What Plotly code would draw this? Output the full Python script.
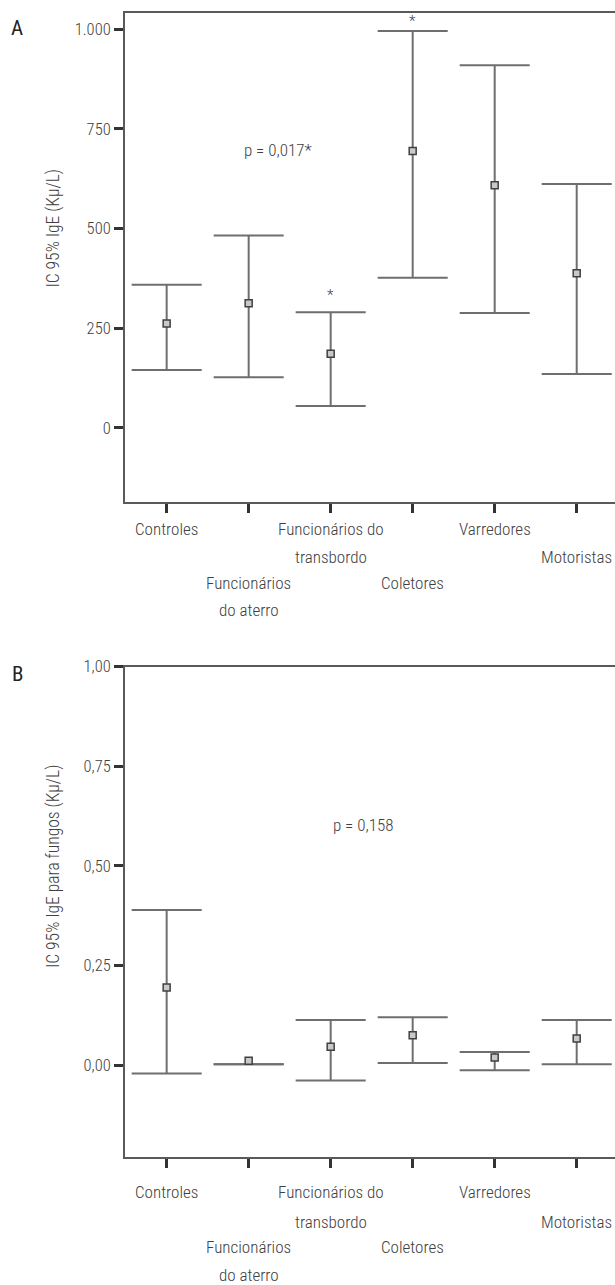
import plotly.graph_objects as go

# ---------------- data ----------------
categories = ["Controles", "Funcionários do aterro", "Funcionários do transbordo",
              "Coletores", "Varredores", "Motoristas"]
tick_lines = [["Controles"], ["Funcionários", "do aterro"], ["Funcionários do", "transbordo"],
              ["Coletores"], ["Varredores"], ["Motoristas"]]

# Panel A: IgE (Ku/L)
a_mean = [262, 313, 186, 695, 609, 388]
a_low = [145, 127, 55, 377, 288, 135]
a_high = [359, 483, 290, 996, 910, 612]
a_ticks = [0, 250, 500, 750, 1000]
a_ticktext = ["0", "250", "500", "750", "1.000"]

# Panel B: IgE para fungos (Ku/L)
b_mean = [0.195, 0.011, 0.046, 0.075, 0.019, 0.067]
b_low = [-0.021, 0.002, -0.039, 0.005, -0.013, 0.002]
b_high = [0.389, 0.002, 0.113, 0.120, 0.033, 0.113]
b_ticks = [0, 0.25, 0.5, 0.75, 1.0]
b_ticktext = ["0,00", "0,25", "0,50", "0,75", "1,00"]

# ---------------- style ----------------
W, H = 615, 1285
FONT = "Noto Sans Condensed, Roboto Condensed, DejaVu Sans Condensed, sans-serif"
FS = 17
WT = 300
TXT = "#404040"
LINE = "#6e6e6e"
AXC = "#5a5a5a"
CAP = 0.427

def py(px):
    return 1 - px / H

def f(size, color=TXT, weight=WT):
    return dict(family=FONT, size=size, color=color, weight=weight)

fig = go.Figure()

def add_panel(xa, ya, mean, low, high):
    xs, ys = [], []
    for i, (lo, hi) in enumerate(zip(low, high)):
        xs += [i, i, None, i - CAP, i + CAP, None, i - CAP, i + CAP, None]
        ys += [lo, hi, None, hi, hi, None, lo, lo, None]
    fig.add_trace(go.Scatter(x=xs, y=ys, mode="lines", xaxis=xa, yaxis=ya,
                             line=dict(color=LINE, width=2), hoverinfo="skip",
                             showlegend=False))
    fig.add_trace(go.Scatter(x=list(range(len(mean))), y=mean, mode="markers",
                             xaxis=xa, yaxis=ya, showlegend=False,
                             marker=dict(symbol="square", size=7, color="#c9c9c9",
                                         line=dict(color="#404040", width=1.5))))

add_panel("x", "y", a_mean, a_low, a_high)
add_panel("x2", "y2", b_mean, b_low, b_high)

x_range = [-0.508, 5.467]
common_x = dict(range=x_range, tickvals=list(range(6)), ticktext=[""] * 6,
                showticklabels=False, ticks="outside", ticklen=9, tickwidth=3,
                tickcolor="#333333", showline=True, linecolor=AXC, linewidth=2,
                mirror=True, showgrid=False, zeroline=False, automargin=False)
common_y = dict(ticks="outside", ticklen=9, tickwidth=3, tickcolor="#333333",
                showline=True, linecolor=AXC, linewidth=2, showgrid=False,
                zeroline=False, automargin=False, tickfont=f(16.5))

xdom = [125 / W, 1.0]
fig.update_layout(
    template="none",
    width=W, height=H, margin=dict(l=0, r=0, t=0, b=0, pad=0),
    paper_bgcolor="white", plot_bgcolor="white", showlegend=False,
    font=dict(family=FONT, color=TXT),
    xaxis=dict(domain=xdom, anchor="y", **common_x),
    yaxis=dict(domain=[py(502), py(13)], anchor="x", range=[-186, 1041],
               tickvals=a_ticks, ticktext=a_ticktext, **common_y),
    xaxis2=dict(domain=xdom, anchor="y2", **common_x),
    yaxis2=dict(domain=[py(1156.7), py(666.7)], anchor="x2", range=[-0.23, 1.0],
                tickvals=b_ticks, ticktext=b_ticktext, **common_y),
)

ann = []
rows_a = [529, 556.7, 582.7, 610]
rows_b = [1192.3, 1221.7, 1246.7, 1275]
start_row = [0, 2, 0, 2, 0, 1]
for xa, rows in (("x", rows_a), ("x2", rows_b)):
    for i, lines in enumerate(tick_lines):
        for k, t in enumerate(lines):
            ann.append(dict(x=i, y=py(rows[start_row[i] + k]), xref=xa, yref="paper",
                            text=t, showarrow=False, yanchor="middle", xanchor="center",
                            font=f(FS)))

# y-axis titles
ann.append(dict(x=53 / W, y=py(228.5), xref="paper", yref="paper",
                xanchor="center", yanchor="middle",
                text="IC 95% IgE (Kμ/L)", textangle=-90, showarrow=False,
                font=f(17.5)))
ann.append(dict(x=53 / W, y=py(867), xref="paper", yref="paper",
                xanchor="center", yanchor="middle",
                text="IC 95% IgE para fungos (Kμ/L)", textangle=-90, showarrow=False,
                font=f(17.5)))
# panel letters
ann.append(dict(x=17 / W, y=py(27.5), xref="paper", yref="paper", text="A",
                xanchor="center", yanchor="middle",
                showarrow=False, font=f(21, "#222222", 400)))
ann.append(dict(x=17 / W, y=py(674), xref="paper", yref="paper", text="B",
                xanchor="center", yanchor="middle",
                showarrow=False, font=f(21, "#222222", 400)))
# p values
ann.append(dict(x=1.357, y=697, xref="x", yref="y", text="p = 0,017*",
                xanchor="center", yanchor="middle", showarrow=False, font=f(FS)))
ann.append(dict(x=2.394, y=0.602, xref="x2", yref="y2", text="p = 0,158",
                xanchor="center", yanchor="middle", showarrow=False, font=f(FS)))
# significance asterisks
ann.append(dict(x=2, y=333, xref="x", yref="y", text="*", showarrow=False,
                xanchor="center", yanchor="middle", font=f(15)))
ann.append(dict(x=3, y=1021, xref="x", yref="y", text="*", showarrow=False,
                xanchor="center", yanchor="middle", font=f(15)))

fig.update_layout(annotations=ann)
fig.write_html("out.html", config={"displayModeBar": False},
               post_script="document.body.style.margin='0';")
